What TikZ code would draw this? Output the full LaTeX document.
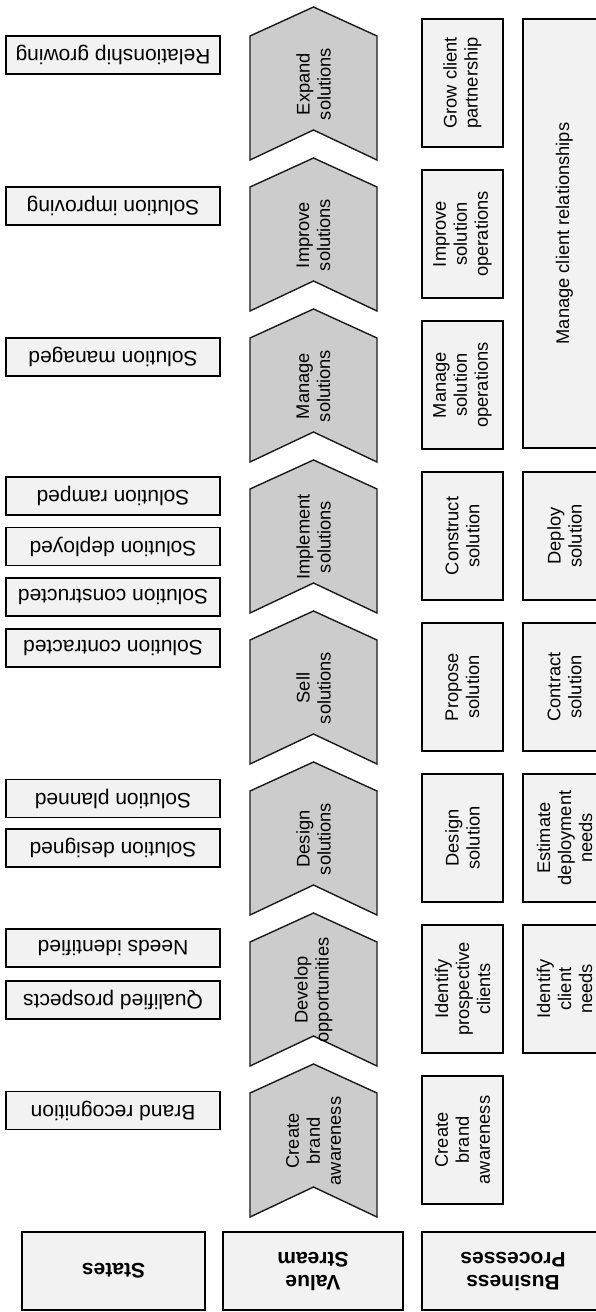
\documentclass[tikz,border=0pt]{standalone}
\usepackage{fontspec}
\setmainfont{Liberation Sans}
\definecolor{boxgray}{HTML}{F2F2F2}
\definecolor{chevgray}{HTML}{CCCCCC}
\definecolor{edge}{HTML}{1A1A1A}
\begin{document}
\begin{tikzpicture}[x=1pt,y=-1pt,
  box/.style={draw=black,line width=1.6pt,fill=boxgray,inner sep=0pt,align=center},
  head/.style={box,rotate=180,minimum height=78pt,font=\bfseries\fontsize{21}{23}\selectfont},
  state/.style={box,rotate=180,minimum width=214pt,minimum height=38pt,font=\fontsize{21}{24}\selectfont},
  chev/.style={draw=edge,line width=1.4pt,fill=chevgray,line join=miter},
  vtext/.style={rotate=90,align=center,inner sep=0pt,font=\fontsize{18.3}{21}\selectfont},
  proc/.style={box,rotate=90,minimum width=128pt,font=\fontsize{18.3}{21}\selectfont}]
\useasboundingbox (0,0) rectangle (596,1312);

% column headers
\node[head,minimum width=183pt] (hs) at (113.5,1271) {States};
\node[head,minimum width=180pt] (hv) at (313,1271) {Value\\Stream};
\node[head,minimum width=182pt] (hb) at (513,1271) {Business\\Processes};

% states
\foreach \yy/\lbl/\nm in {55/Relationship growing/s1, 206/Solution improving/s2,
  357/Solution managed/s3, 496/Solution ramped/s4, 546.5/Solution deployed/s5,
  597/Solution constructed/s6, 648/Solution contracted/s7, 798.5/Solution planned/s8,
  848/Solution designed/s9, 948/Needs identified/s10, 1000/Qualified prospects/s11,
  1110.5/Brand recognition/s12}
  \node[state] (\nm) at (113,\yy) {\lbl};

% value stream chevrons
\foreach \n/\lbl in {0/{Expand\\solutions},1/{Improve\\solutions},2/{Manage\\solutions},
  3/{Implement\\solutions},4/{Sell\\solutions},5/{Design\\solutions},
  6/{Develop\\opportunities},7/{Create\\brand\\awareness}} {
  \pgfmathsetmacro\T{7+151*\n}
  \draw[chev] (250,{\T+29}) -- (313.5,\T) -- (377,{\T+29}) -- (377,{\T+153})
    -- (313.5,{\T+123}) -- (250,{\T+153}) -- cycle;
  \node[vtext] (v\n) at (313.5,{\T+77}) {\lbl};
}

% business processes, first column
\foreach \n/\lbl in {0/{Grow client\\partnership},1/{Improve\\solution\\operations},
  2/{Manage\\solution\\operations},3/{Construct\\solution},4/{Propose\\solution},
  5/{Design\\solution},6/{Identify\\prospective\\clients},7/{Create\\brand\\awareness}}
  \node[proc,minimum height=81pt] (p\n) at (462.5,{83+151*\n}) {\lbl};

% business processes, second column
\node[proc,minimum width=429pt,minimum height=83pt] (q0) at (564.5,233.5) {Manage client relationships};
\foreach \n/\lbl in {3/{Deploy\\solution},4/{Contract\\solution},
  5/{Estimate\\deployment\\needs},6/{Identify\\client\\needs}}
  \node[proc,minimum height=83pt] (q\n) at (564.5,{83+151*\n}) {\lbl};
\end{tikzpicture}
\end{document}
